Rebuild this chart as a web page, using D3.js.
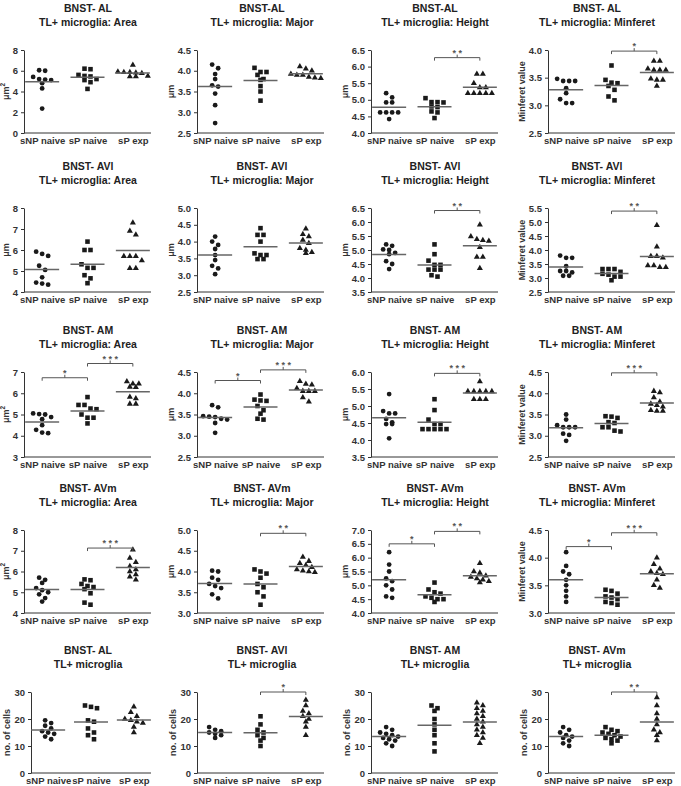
<!DOCTYPE html>
<html>
<head>
<meta charset="utf-8">
<script src="https://cdn.jsdelivr.net/npm/d3@7"></script>
<style>
  body { margin: 0; background: #fff; }
  svg text { font-family: "Liberation Sans", Arial, sans-serif; font-weight: bold; }
</style>
</head>
<body>
<div id="chart"></div>
<script>
const groups = ["sNP naive", "sP naive", "sP exp"];

// BNST-AL
const alArea = [[6.0, 6.05, 5.4, 5.1, 5.15, 5.2, 4.8, 4.3, 2.35], [6.2, 6.15, 5.6, 5.5, 5.45, 5.2, 5.1, 4.9, 4.25], [6.55, 5.9, 5.85, 5.85, 5.8, 5.75, 5.5, 5.45, 5.45]];
const alMajor = [[4.15, 4.06, 3.92, 3.8, 3.65, 3.62, 3.45, 3.17, 2.74], [4.07, 3.97, 3.97, 3.9, 3.8, 3.78, 3.63, 3.5, 3.28], [4.1, 4.05, 4.0, 3.92, 3.9, 3.9, 3.85, 3.83, 3.82]];
const alHeight = [[5.2, 5.07, 4.92, 4.92, 4.62, 4.62, 4.62, 4.62, 4.42], [5.05, 4.93, 4.93, 4.92, 4.8, 4.78, 4.65, 4.62, 4.45], [5.78, 5.78, 5.5, 5.37, 5.37, 5.2, 5.2, 5.2, 5.2, 5.2]];
const alMinferet = [[3.48, 3.44, 3.44, 3.44, 3.31, 3.22, 3.11, 3.04, 3.04], [3.72, 3.46, 3.41, 3.40, 3.35, 3.28, 3.16, 3.09], [3.8, 3.8, 3.66, 3.64, 3.64, 3.64, 3.48, 3.46, 3.46, 3.35]];
// BNST-AVl
const aviArea = [[5.92, 5.82, 5.72, 5.25, 5.05, 4.7, 4.45, 4.4, 4.35], [6.4, 6.0, 6.0, 5.32, 5.15, 5.15, 4.8, 4.65, 4.42], [7.3, 6.9, 6.73, 5.7, 5.7, 5.7, 5.5, 5.13, 5.13]];
const aviMajor = [[4.15, 4.0, 3.9, 3.78, 3.6, 3.45, 3.28, 3.2, 3.03], [4.4, 4.2, 4.2, 4.0, 3.65, 3.6, 3.6, 3.48, 3.48], [4.38, 4.22, 4.15, 4.05, 3.95, 3.8, 3.75, 3.68, 3.65]];
const aviHeight = [[5.2, 5.15, 5.02, 5.0, 4.9, 4.85, 4.6, 4.5, 4.32], [5.2, 4.85, 4.62, 4.47, 4.47, 4.3, 4.3, 4.3, 4.1, 4.05], [5.9, 5.48, 5.38, 5.35, 5.32, 5.1, 4.75, 4.75, 4.35]];
const aviMinferet = [[3.8, 3.72, 3.72, 3.42, 3.25, 3.25, 3.2, 3.08, 3.08], [3.32, 3.32, 3.32, 3.22, 3.15, 3.12, 3.05, 3.05, 2.92], [4.88, 4.12, 3.78, 3.78, 3.72, 3.45, 3.45, 3.38, 3.38]];
// BNST-AM
const amArea = [[5.05, 5.02, 5.0, 4.88, 4.78, 4.5, 4.28, 4.15, 4.12], [5.82, 5.45, 5.45, 5.28, 5.25, 5.0, 4.85, 4.85, 4.58], [6.55, 6.45, 6.45, 6.3, 6.28, 5.82, 5.75, 5.5, 5.5]];
const amMajor = [[3.72, 3.67, 3.46, 3.45, 3.44, 3.4, 3.38, 3.3, 3.07], [3.97, 3.85, 3.83, 3.82, 3.7, 3.6, 3.52, 3.4, 3.38], [4.28, 4.22, 4.2, 4.12, 4.05, 4.05, 4.05, 3.9, 3.8]];
const amHeight = [[5.35, 4.85, 4.78, 4.78, 4.62, 4.52, 4.47, 4.47, 4.05], [5.2, 4.88, 4.6, 4.47, 4.47, 4.32, 4.32, 4.32, 4.32, 4.32], [5.72, 5.43, 5.43, 5.43, 5.43, 5.43, 5.2, 5.2, 5.2]];
const amMinferet = [[3.5, 3.38, 3.25, 3.2, 3.2, 3.2, 3.05, 3.02, 2.88], [3.46, 3.45, 3.42, 3.32, 3.3, 3.2, 3.2, 3.12, 3.1], [4.05, 4.02, 3.9, 3.8, 3.75, 3.72, 3.68, 3.6, 3.58, 3.58]];
// BNST-AVm
const avmArea = [[5.7, 5.6, 5.45, 5.2, 5.1, 5.0, 4.9, 4.72, 4.55], [5.62, 5.58, 5.4, 5.3, 5.25, 5.15, 4.95, 4.5, 4.4], [7.05, 6.65, 6.45, 6.25, 6.1, 6.0, 5.85, 5.75, 5.6]];
const avmMajor = [[4.02, 4.0, 3.85, 3.8, 3.7, 3.65, 3.6, 3.45, 3.35], [4.05, 4.0, 3.95, 3.85, 3.7, 3.62, 3.5, 3.4, 3.2], [4.35, 4.25, 4.2, 4.15, 4.1, 4.05, 4.02, 4.0, 3.98]];
const avmHeight = [[6.2, 5.75, 5.5, 5.25, 5.15, 5.0, 4.85, 4.6, 4.55], [5.1, 4.85, 4.75, 4.7, 4.6, 4.55, 4.5, 4.5, 4.4], [5.8, 5.5, 5.45, 5.35, 5.3, 5.25, 5.2, 5.15, 5.1]];
const avmMinferet = [[4.1, 3.85, 3.75, 3.7, 3.6, 3.5, 3.4, 3.3, 3.2], [3.42, 3.4, 3.35, 3.3, 3.28, 3.25, 3.2, 3.18, 3.15], [4.0, 3.88, 3.8, 3.75, 3.72, 3.7, 3.6, 3.5, 3.45]];
// cell counts
const alCells = [[19.5, 18.5, 17.5, 16.5, 15.5, 15, 14.5, 13.5, 12.5], [25, 24.5, 24, 19.5, 19, 16.5, 15, 14, 12.5], [24.5, 22.5, 21, 20, 19.5, 19, 18.5, 17, 15]];
const aviCells = [[17, 16, 15.5, 15, 14.5, 14, 13], [21, 18, 16, 15, 14, 13, 12, 10], [27, 25, 23, 22, 21, 20, 19, 17, 14]];
const amCells = [[17, 16, 15, 14.5, 14, 13.5, 13, 12.5, 12, 11, 10], [25, 24, 23, 20, 18, 16, 14, 11, 8], [26, 25, 24, 23, 22, 21, 20, 19, 18, 17, 16, 15, 14, 13, 11]];
const avmCells = [[17, 16, 15, 14, 13.5, 13, 12, 11, 10], [17, 16, 15.5, 15, 14.5, 14, 13.5, 13, 12.5, 12, 11], [28, 25, 22, 20, 18, 16, 15, 14, 12]];

// panels: [row, col, title1, title2, ylabel, values, [min, max, step], brackets [from, to, y, stars]]
const panels = [
  [0, 0, "BNST- AL", "TL+ microglia: Area", "μm2", alArea, [0, 8, 2], []],
  [0, 1, "BNST-AL", "TL+ microglia: Major", "μm", alMajor, [2.5, 4.5, 0.5], []],
  [0, 2, "BNST-AL", "TL+ microglia: Height", "μm", alHeight, [4, 6.5, 0.5], [[1, 2, 6.27, "* *"]]],
  [0, 3, "BNST- AL", "TL+ microglia: Minferet", "Minferet value", alMinferet, [2.5, 4, 0.5], [[1, 2, 3.98, "*"]]],
  [1, 0, "BNST- AVl", "TL+ microglia: Area", "μm", aviArea, [4, 8, 1], []],
  [1, 1, "BNST- AVl", "TL+ microglia: Major", "μm", aviMajor, [2.5, 5, 0.5], []],
  [1, 2, "BNST- AVl", "TL+ microglia: Height", "μm", aviHeight, [3.5, 6.5, 0.5], [[1, 2, 6.41, "* *"]]],
  [1, 3, "BNST- AVl", "TL+ microglia: Minferet", "Minferet value", aviMinferet, [2.5, 5.5, 0.5], [[1, 2, 5.39, "* *"]]],
  [2, 0, "BNST- AM", "TL+ microglia: Area", "μm2", amArea, [3, 7, 1], [[0, 1, 6.73, "*"], [1, 2, 7.4, "* * *"]]],
  [2, 1, "BNST- AM", "TL+ microglia: Major", "μm", amMajor, [2.5, 4.5, 0.5], [[0, 1, 4.3, "*"], [1, 2, 4.55, "* * *"]]],
  [2, 2, "BNST- AM", "TL+ microglia: Height", "μm", amHeight, [3.5, 6, 0.5], [[1, 2, 5.96, "* * *"]]],
  [2, 3, "BNST- AM", "TL+ microglia: Minferet", "Minferet value", amMinferet, [2.5, 4.5, 0.5], [[1, 2, 4.48, "* * *"]]],
  [3, 0, "BNST- AVm", "TL+ microglia: Area", "μm2", avmArea, [4, 8, 1], [[1, 2, 7.13, "* * *"]]],
  [3, 1, "BNST- AVm", "TL+ microglia: Major", "μm", avmMajor, [3, 5, 0.5], [[1, 2, 4.92, "* *"]]],
  [3, 2, "BNST- AVm", "TL+ microglia: Height", "μm", avmHeight, [4, 7, 0.5], [[0, 1, 6.5, "*"], [1, 2, 6.95, "* *"]]],
  [3, 3, "BNST- AVm", "TL+ microglia: Minferet", "Minferet value", avmMinferet, [3, 4.5, 0.5], [[0, 1, 4.2, "*"], [1, 2, 4.45, "* * *"]]],
  [4, 0, "BNST- AL", "TL+ microglia", "no. of cells", alCells, [0, 30, 10], []],
  [4, 1, "BNST- AVl", "TL+ microglia", "no. of cells", aviCells, [0, 30, 10], [[1, 2, 30, "*"]]],
  [4, 2, "BNST- AM", "TL+ microglia", "no. of cells", amCells, [0, 30, 10], []],
  [4, 3, "BNST- AVm", "TL+ microglia", "no. of cells", avmCells, [0, 30, 10], [[1, 2, 30, "* *"]]]
];

const colX = [24, 197, 371, 548];
const titleX = [88, 262, 435, 597];
const rowTop = [50, 208, 372, 530, 692];
const rowH = [83, 84, 85, 83, 81];
const plotW = 127;
const ink = "#1a1a1a", axisCol = "#333";

const svg = d3.select("#chart").append("svg")
  .attr("width", 681).attr("height", 786);

// Prism-like scatter: points at close heights are put side by side
function swarm(vals, y, cx) {
  let sorted = vals.slice().sort((a, b) => b - a);
  let rows = [];
  sorted.forEach(function (v) {
    let last = rows[rows.length - 1];
    if (last && Math.abs(y(v) - y(last[0])) < 4.5) last.push(v);
    else rows.push([v]);
  });
  let pts = [];
  rows.forEach(function (row) {
    row.forEach(function (v, i) {
      pts.push({ x: cx + (i - (row.length - 1) / 2) * 6, y: y(v) });
    });
  });
  return pts;
}

panels.forEach(function (p) {
  let [r, c, t1, t2, ylab, vals, ax, sig] = p;
  let h = rowH[r];
  // last row, first panel sits a bit further right (wider tick labels)
  let left = (r === 4 && c === 0) ? 31 : colX[c];
  let w = plotW - (left - colX[c]);

  svg.append("text").attr("x", titleX[c]).attr("y", rowTop[r] - 38)
    .attr("text-anchor", "middle").attr("font-size", 10.5).attr("fill", "#222").text(t1);
  svg.append("text").attr("x", titleX[c]).attr("y", rowTop[r] - 24)
    .attr("text-anchor", "middle").attr("font-size", 10.5).attr("fill", "#222").text(t2);

  let g = svg.append("g").attr("transform", "translate(" + left + "," + rowTop[r] + ")");

  let y = d3.scaleLinear().domain([ax[0], ax[1]]).range([h, 0]);
  let x = d3.scalePoint().domain(groups).range([0, w]).padding(0.4);

  let ticks = d3.range(ax[0], ax[1] + ax[2] / 2, ax[2]);
  let yAxis = g.append("g")
    .call(d3.axisLeft(y).tickValues(ticks).tickSize(3).tickSizeOuter(0)
      .tickFormat(ax[2] < 1 ? d3.format(".1f") : d3.format("d")));
  yAxis.selectAll("text").attr("font-size", 9.5).attr("fill", axisCol)
    .attr("font-family", "Liberation Sans, Arial, sans-serif").attr("font-weight", "bold");
  yAxis.selectAll("line, path").attr("stroke", axisCol);

  let xAxis = g.append("g").attr("transform", "translate(0," + h + ")")
    .call(d3.axisBottom(x).tickSize(0).tickSizeOuter(0).tickPadding(4));
  xAxis.select("path").attr("d", "M0,0H" + w).attr("stroke", axisCol);
  xAxis.selectAll("text").attr("font-size", 9.5).attr("fill", axisCol)
    .attr("font-family", "Liberation Sans, Arial, sans-serif").attr("font-weight", "bold");

  // y label
  let bb = yAxis.node().getBBox();
  let lab = g.append("text")
    .attr("transform", "translate(" + (bb.x - 4) + "," + (h / 2) + ")rotate(-90)")
    .attr("text-anchor", "middle").attr("font-size", 9).attr("fill", axisCol);
  if (ylab === "μm2") {
    lab.append("tspan").text("μm");
    lab.append("tspan").attr("dy", -4).attr("font-size", 6.5).text("2");
  } else {
    lab.text(ylab);
  }

  // points
  vals.forEach(function (arr, gi) {
    let cx = x(groups[gi]);
    let pts = swarm(arr, y, cx);
    let shape = [d3.symbolCircle, d3.symbolSquare, d3.symbolTriangle][gi];
    let size = [18, 21, 16][gi];
    g.append("g").selectAll("path")
      .data(pts)
      .enter()
      .append("path")
      .attr("transform", function (d) { return "translate(" + d.x + "," + d.y + ")"; })
      .attr("d", d3.symbol().type(shape).size(size))
      .attr("fill", ink);

    let m = d3.mean(arr);
    g.append("line")
      .attr("x1", cx - 17).attr("x2", cx + 17)
      .attr("y1", y(m)).attr("y2", y(m))
      .attr("stroke", "#666").attr("stroke-width", 1.5);
  });

  // significance brackets
  sig.forEach(function (s) {
    let x1 = x(groups[s[0]]), x2 = x(groups[s[1]]), by = y(s[2]);
    let xm = (x1 + x2) / 2;
    g.append("path")
      .attr("d", "M" + x1 + "," + (by + 3) + "V" + by + "H" + x2 + "V" + (by + 3) + "M" + xm + "," + by + "V" + (by - 3))
      .attr("fill", "none").attr("stroke", "#555").attr("stroke-width", 1);
    g.append("text").attr("x", xm).attr("y", by - 2)
      .attr("text-anchor", "middle").attr("font-size", 9).attr("fill", "#555").text(s[3]);
  });
});
</script>
</body>
</html>
